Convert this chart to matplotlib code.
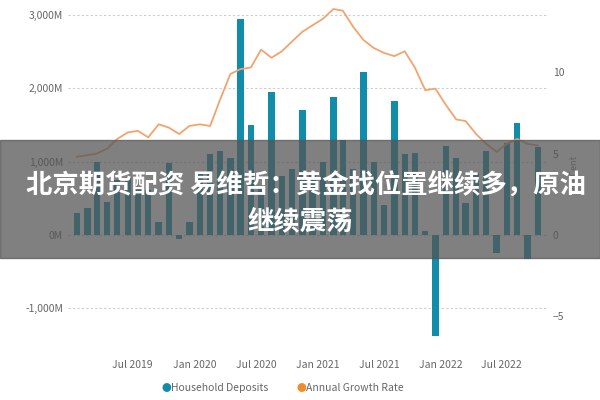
import matplotlib
matplotlib.use("Agg")
import matplotlib.pyplot as plt
import matplotlib.dates as mdates
import pandas as pd
import numpy as np

months = pd.date_range("2019-01-01", periods=46, freq="MS")
deposits = [300, 370, 1000, 450, 750, 780, 640, 610, 180, 980,
            -60, 180, 860, 1100, 1150, 1050, 2950, 1500, 650, 1950,
            800, 900, 1700, 850, 1000, 1880, 1300, 900, 2230, 1000,
            400, 1830, 1100, 1120, 50, -1380, 1220, 1050, 430, 840,
            1150, -250, 1250, 1530, -330, 1200]
growth = [4.8, 4.9, 5.0, 5.3, 5.9, 6.3, 6.4, 6.0, 6.8, 6.6,
          6.2, 6.7, 6.8, 6.7, 8.3, 9.9, 10.2, 10.3, 11.4, 10.9,
          11.3, 11.9, 12.5, 12.9, 13.3, 13.9, 13.8, 12.8, 12.0, 11.5,
          11.2, 11.0, 11.3, 10.3, 8.9, 9.0, 8.0, 7.1, 7.0, 6.2,
          5.6, 5.1, 5.6, 5.9, 5.6, 5.5]

plt.rcParams['font.family'] = ['Noto Sans CJK SC', 'DejaVu Sans']
fig = plt.figure(figsize=(6, 4), dpi=100)
ax = fig.add_axes([0.113, 0.148, 0.8, 0.832])
x = mdates.date2num(months) + 15
ax.bar(x, deposits, width=19, color="#118DAA", zorder=2)
ax.set_ylim(-1450, 3100)
ax.set_yticks([-1000, 0, 1000, 2000, 3000])
ax.set_yticklabels(["-1,000M", "0M", "1,000M", "2,000M", "3,000M"])
ax.grid(axis="y", color="#cccccc", linestyle=(0, (2, 2)), linewidth=0.8, zorder=0)
for s in ax.spines.values():
    s.set_visible(False)
ax.tick_params(length=0, labelsize=7.5, colors="#666666")
ax.tick_params(axis="x", pad=14)
ax.set_xlim(mdates.date2num(pd.Timestamp("2018-12-20")), mdates.date2num(pd.Timestamp("2022-11-15")))
ticks = pd.to_datetime(["2019-07-01", "2020-01-01", "2020-07-01", "2021-01-01", "2021-07-01", "2022-01-01", "2022-07-01"])
ax.set_xticks(mdates.date2num(ticks))
ax.set_xticklabels([t.strftime("%b %Y") for t in ticks])

ax2 = ax.twinx()
ax2.plot(x, growth, color="#F2A46E", linewidth=1.3, zorder=3)
ax2.set_ylim(-1450 / 222, 3100 / 222)
ax2.set_yticks([-5, 0, 5, 10])
for s in ax2.spines.values():
    s.set_visible(False)
ax2.tick_params(length=0, labelsize=7.5, colors="#666666")
ax2.set_ylabel("Per Cent", fontsize=6.5, color="#888888")

fig.text(0.285, 0.03, "●", color="#118DAA", fontsize=7, ha="right", va="center")
fig.text(0.285, 0.03, "Household Deposits", color="#666666", fontsize=7.5, ha="left", va="center")
fig.text(0.51, 0.03, "●", color="#F28C28", fontsize=7, ha="right", va="center")
fig.text(0.51, 0.03, "Annual Growth Rate", color="#666666", fontsize=7.5, ha="left", va="center")

fig.patches.append(plt.Rectangle((0, 0.355), 1, 0.295, transform=fig.transFigure,
                                 color="#555555", alpha=0.75, zorder=10))
fig.text(0.51, 0.5375, "北京期货配资 易维哲：黄金找位置继续多，原油", color="white",
         fontsize=19, fontweight="bold", ha="center", va="center", zorder=11)
fig.text(0.5, 0.445, "继续震荡", color="white", fontsize=19, fontweight="bold",
         ha="center", va="center", zorder=11)
fig.savefig("out.png", dpi=100)
